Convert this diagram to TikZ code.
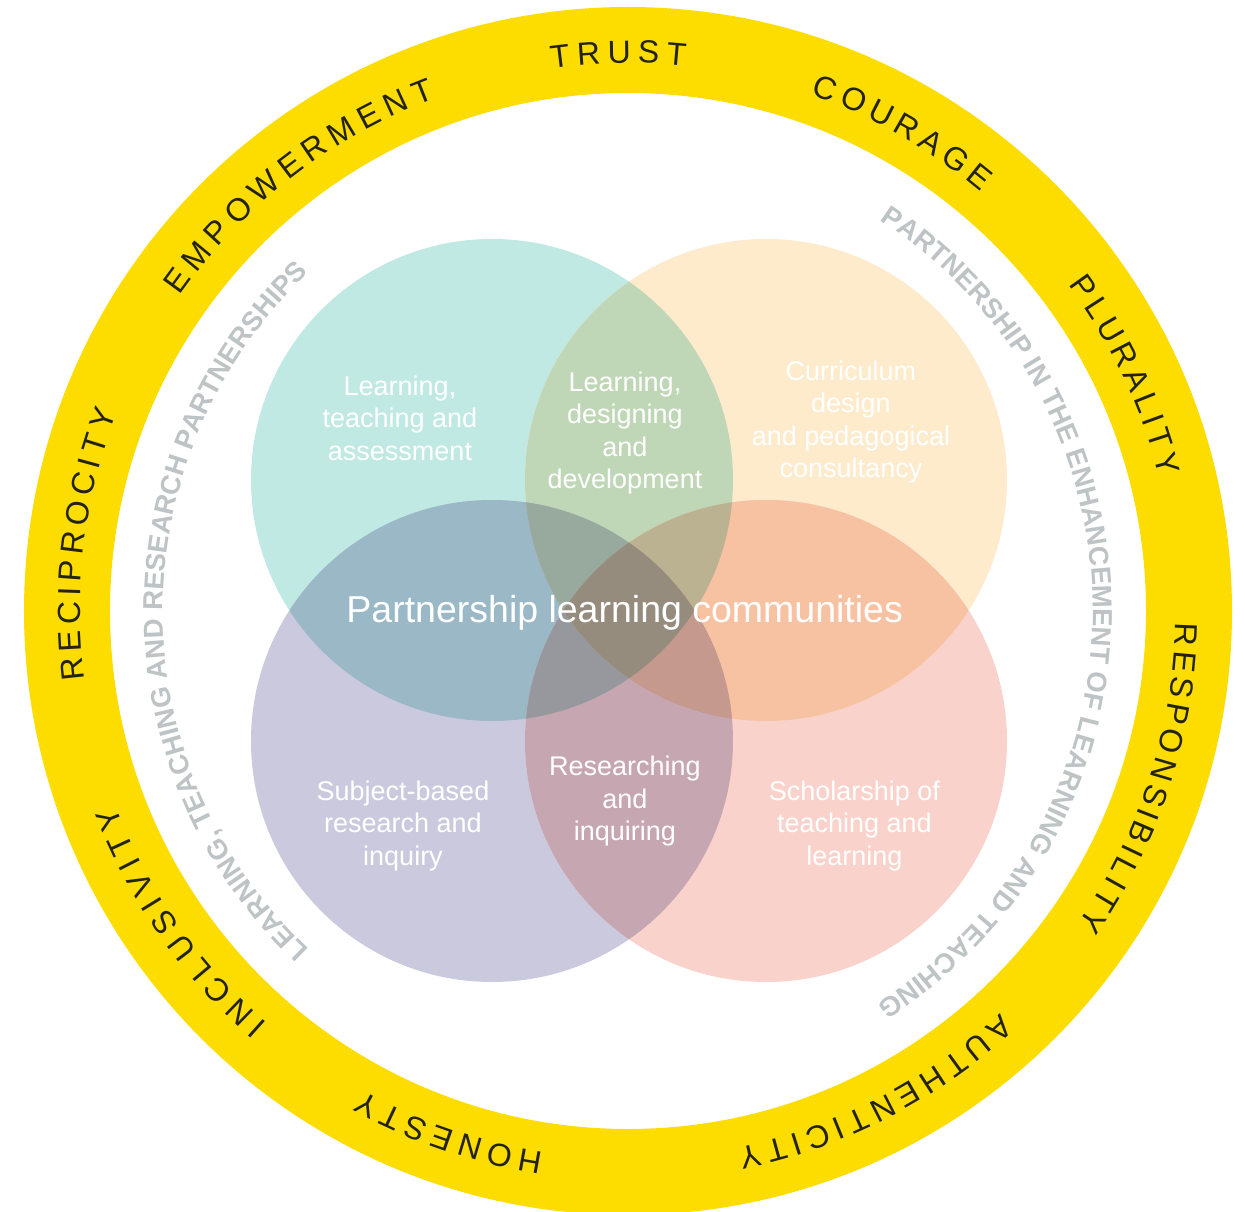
\documentclass[tikz,border=0pt]{standalone}
\usepackage{fontspec}
\setmainfont{Liberation Sans}
\usetikzlibrary{decorations.text}
\definecolor{ringyellow}{RGB}{253,220,0}
\definecolor{ringtext}{RGB}{35,35,15}
\definecolor{greytext}{RGB}{190,195,197}
\definecolor{colA}{RGB}{193,233,227}
\definecolor{colB}{RGB}{253,235,204}
\definecolor{colC}{RGB}{203,201,222}
\definecolor{colD}{RGB}{249,211,203}
\definecolor{colAB}{RGB}{191,215,182}
\definecolor{colAC}{RGB}{154,184,198}
\definecolor{colAD}{RGB}{188,193,181}
\definecolor{colBC}{RGB}{201,185,178}
\definecolor{colBD}{RGB}{247,194,162}
\definecolor{colCD}{RGB}{198,166,177}
\definecolor{colABC}{RGB}{152,169,158}
\definecolor{colABD}{RGB}{187,178,145}
\definecolor{colACD}{RGB}{150,152,157}
\definecolor{colBCD}{RGB}{197,153,141}
\definecolor{colABCD}{RGB}{149,140,126}
\newcommand\vfRing{\fontsize{32}{32}\selectfont}
\newcommand\vfGrey{\fontsize{27.5}{27.5}\selectfont\bfseries}
\begin{document}
\begin{tikzpicture}[x=1pt,y=1pt,
  ringword/.style={decorate, decoration={text along path, text color=ringtext, text align={fit to path}}},
  greyword/.style={decorate, decoration={text along path, text color=greytext, text align={fit to path}}},
  circlelabel/.style={text=white, align=center, font=\fontsize{27}{32.5}\selectfont, inner sep=0pt},
  biglabel/.style={text=white, font=\fontsize{37.5}{40}\selectfont, inner sep=0pt, anchor=base}
]
\useasboundingbox (-628,-600) rectangle (617,611);
\fill[white] (-628,-600) rectangle (617,611);
\coordinate (O) at (0,0);
% yellow ring
\fill[ringyellow, even odd rule] (O) circle[radius=604] (O) circle[radius=518];
% circle centres
\coordinate (A) at (-136,131);
\coordinate (B) at (138,131);
\coordinate (C) at (-136,-130);
\coordinate (D) at (138,-130);
\def\R{241}
% single circles
\fill[colA] (A) circle[radius=\R];
\fill[colB] (B) circle[radius=\R];
\fill[colC] (C) circle[radius=\R];
\fill[colD] (D) circle[radius=\R];
% pairs
\begin{scope}
  \clip (A) circle[radius=\R];
  \fill[colAB] (B) circle[radius=\R];
  \fill[colAC] (C) circle[radius=\R];
  \fill[colAD] (D) circle[radius=\R];
\end{scope}
\begin{scope}
  \clip (B) circle[radius=\R];
  \fill[colBC] (C) circle[radius=\R];
  \fill[colBD] (D) circle[radius=\R];
\end{scope}
\begin{scope}
  \clip (C) circle[radius=\R];
  \fill[colCD] (D) circle[radius=\R];
\end{scope}
% triples
\begin{scope}
  \clip (A) circle[radius=\R];
  \clip (B) circle[radius=\R];
  \fill[colABC] (C) circle[radius=\R];
  \fill[colABD] (D) circle[radius=\R];
\end{scope}
\begin{scope}
  \clip (A) circle[radius=\R];
  \clip (C) circle[radius=\R];
  \fill[colACD] (D) circle[radius=\R];
\end{scope}
\begin{scope}
  \clip (B) circle[radius=\R];
  \clip (C) circle[radius=\R];
  \fill[colBCD] (D) circle[radius=\R];
\end{scope}
% all four
\begin{scope}
  \clip (A) circle[radius=\R];
  \clip (B) circle[radius=\R];
  \clip (C) circle[radius=\R];
  \fill[colABCD] (D) circle[radius=\R];
\end{scope}
% circle labels
\node[circlelabel] (lta) at (-228,192.7) {Learning,\\teaching and\\assessment};
\node[circlelabel] (ldd) at (-3,178.1) {Learning,\\designing\\and\\development};
\node[circlelabel] (cdp) at (223,189) {Curriculum\\design\\and pedagogical\\consultancy};
\node[circlelabel] (sbr) at (-225,-214.6) {Subject-based\\research and\\inquiry};
\node[circlelabel] (rai) at (-3,-190.5) {Researching\\and\\inquiring};
\node[circlelabel] (stl) at (226.5,-214.6) {Scholarship of\\teaching and\\learning};
\node[biglabel] (plc) at (-3.3,-11.7) {Partnership learning communities};
% ring words
\path[ringword, decoration={text={|\vfRing|TRUST}}] (98:548) arc[start angle=98, end angle=84, radius=548];
\path[ringword, decoration={text={|\vfRing|COURAGE}}] (70.5:548) arc[start angle=70.5, end angle=49.9, radius=548];
\path[ringword, decoration={text={|\vfRing|PLURALITY}}] (36.5:548) arc[start angle=36.5, end angle=14.2, radius=548];
\path[ringword, decoration={text={|\vfRing|RESPONSIBILITY}}] (-1.2:548) arc[start angle=-1.2, end angle=-34.9, radius=548];
\path[ringword, decoration={text={|\vfRing|AUTHENTICITY}}] (-47.2:548) arc[start angle=-47.2, end angle=-78.4, radius=548];
\path[ringword, decoration={text={|\vfRing|HONESTY}}] (-98.9:548) arc[start angle=-98.9, end angle=-119, radius=548];
\path[ringword, decoration={text={|\vfRing|INCLUSIVITY}}] (-131.2:548) arc[start angle=-131.2, end angle=-159.2, radius=548];
\path[ringword, decoration={text={|\vfRing|RECIPROCITY}}] (187.2:548) arc[start angle=187.2, end angle=158.8, radius=548];
\path[ringword, decoration={text={|\vfRing|EMPOWERMENT}}] (144.9:548) arc[start angle=144.9, end angle=110.6, radius=548];
% grey inner words
\path[greyword, decoration={text={|\vfGrey|LEARNING, TEACHING AND RESEARCH PARTNERSHIPS}}] (226.7:465) arc[start angle=226.7, end angle=133.3, radius=465];
\path[greyword, decoration={text={|\vfGrey|PARTNERSHIP IN THE ENHANCEMENT OF LEARNING AND TEACHING}}] (57.2:465) arc[start angle=57.2, end angle=-56.8, radius=465];
\end{tikzpicture}
\end{document}
